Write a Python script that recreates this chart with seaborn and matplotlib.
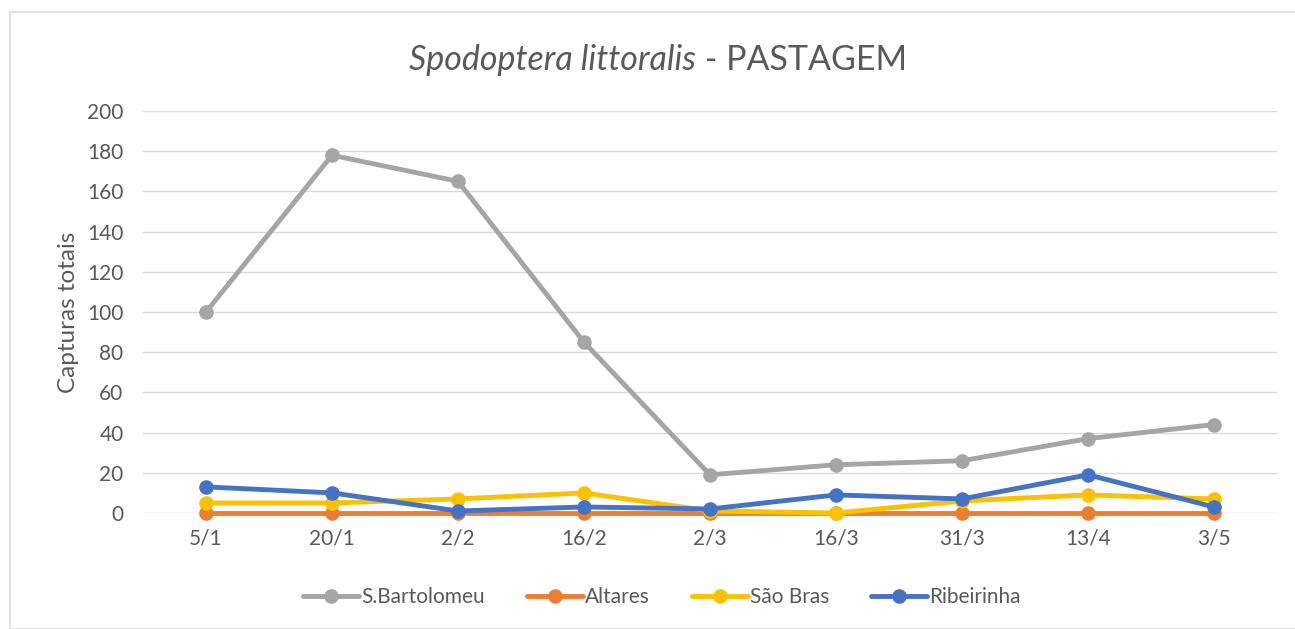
import matplotlib
matplotlib.use("Agg")
import matplotlib.pyplot as plt
import seaborn as sns
import pandas as pd
from matplotlib.patches import Rectangle
from matplotlib.lines import Line2D

dates = ["5/1", "20/1", "2/2", "16/2", "2/3", "16/3", "31/3", "13/4", "3/5"]
s_bartolomeu = [100, 178, 165, 85, 19, 24, 26, 37, 44]
altares = [0, 0, 0, 0, 0, 0, 0, 0, 0]
sao_bras = [5, 5, 7, 10, 1, 0, 6, 9, 7]
ribeirinha = [13, 10, 1, 3, 2, 9, 7, 19, 3]

series = {
    "S.Bartolomeu": s_bartolomeu,
    "Altares": altares,
    "São Bras": sao_bras,
    "Ribeirinha": ribeirinha,
}
colors = ["#A5A5A5", "#ED7D31", "#FFC000", "#4472C4"]

rows = []
for name, vals in series.items():
    for i, (d, v) in enumerate(zip(dates, vals)):
        rows.append({"pos": i, "date": d, "site": name, "value": v})
df = pd.DataFrame(rows)

sns.set_theme(style="white")
plt.rcParams['font.family'] = ['Lato', 'DejaVu Sans']
txt = "#595959"

fig = plt.figure(figsize=(12.95, 6.29), dpi=100)
ax = fig.add_axes([143/1295, 1 - 513/629, (1277-143)/1295, (513-111)/629])

fig.patches.append(Rectangle((10/1295, 0), 1, 1 - 12/629, transform=fig.transFigure,
                             fill=False, edgecolor="#D9D9D9", linewidth=1.2, zorder=0))

sns.lineplot(data=df, x="pos", y="value", hue="site", palette=colors,
             hue_order=list(series.keys()), marker="o", markersize=10.5,
             markeredgewidth=0, linewidth=3.5, ax=ax, legend=False, zorder=3)
for ln in ax.lines:
    ln.set_clip_on(False)

ax.set_xlim(-0.5, len(dates) - 0.5)
ax.set_ylim(0, 200)
ax.set_yticks(range(0, 201, 20))
ax.set_xticks(range(len(dates)))
ax.set_xticklabels(dates)
ax.tick_params(axis="both", length=0, labelsize=15, colors=txt)
ax.tick_params(axis="y", pad=14)
ax.tick_params(axis="x", pad=11)
ax.yaxis.grid(True, color="#D9D9D9", linewidth=1)
ax.set_axisbelow(True)
for s in ax.spines.values():
    s.set_visible(False)
ax.set_xlabel("")
ax.set_ylabel("Capturas totais", fontsize=17.5, color=txt, labelpad=6)

# Title with italic species name
fig.canvas.draw()
renderer = fig.canvas.get_renderer()
t1 = fig.text(0, 0, "Spodoptera littoralis", fontsize=24.5, style="italic", color=txt)
t2 = fig.text(0, 0, " - PASTAGEM", fontsize=24.5, color=txt)
w1 = t1.get_window_extent(renderer).width
w2 = t2.get_window_extent(renderer).width
cx = 658
ty = 629 - 70
x0 = cx - (w1 + w2) / 2
t1.set_position((x0 / 1295, ty / 629))
t2.set_position(((x0 + w1) / 1295, ty / 629))

handles = [Line2D([0], [0], color=c, linewidth=3.5, marker="o", markersize=10.5,
                  markeredgewidth=0) for c in colors]
fig.legend(handles, list(series.keys()), loc="center", bbox_to_anchor=(662/1295, 1 - 597/629),
           ncol=4, frameon=False, fontsize=15, labelcolor=txt, handlelength=2.7,
           columnspacing=2.0, handletextpad=0.1)

fig.savefig("out.png", dpi=100)
